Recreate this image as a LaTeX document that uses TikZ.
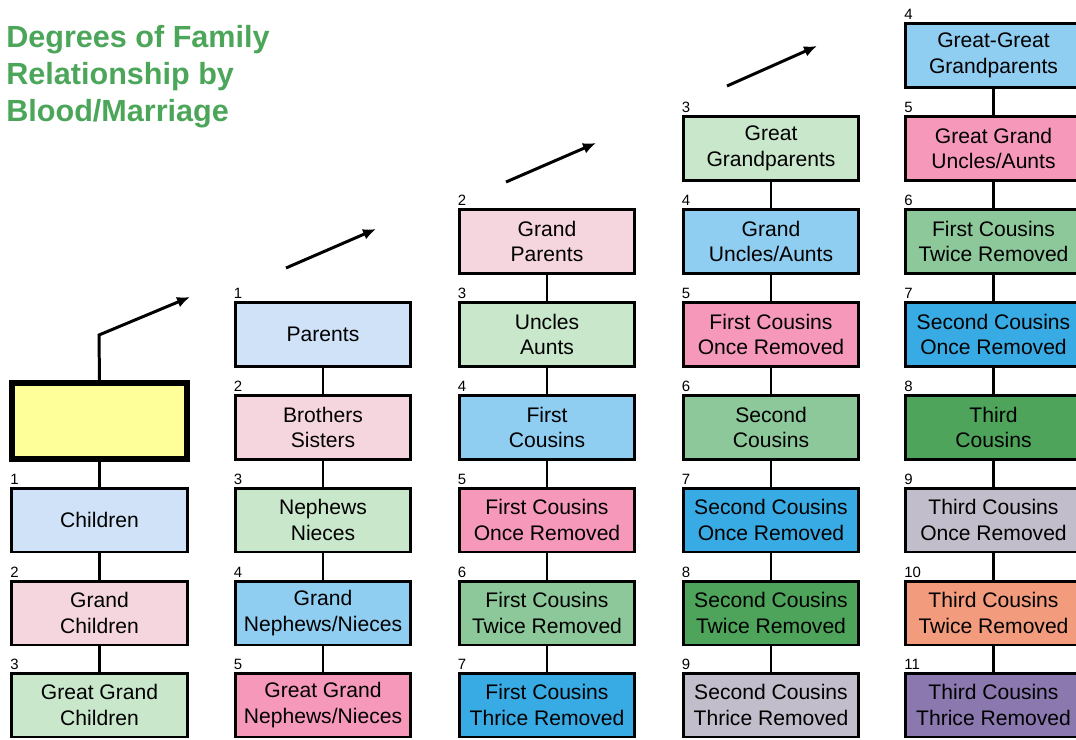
\documentclass[tikz,border=0pt]{standalone}
\usepackage{fontspec}
\setmainfont{Liberation Sans}
\usetikzlibrary{arrows.meta, positioning}

\definecolor{selfyellow}{HTML}{FFFF99}
\definecolor{paleblue}{HTML}{CFE2F8}
\definecolor{palepink}{HTML}{F5D6DF}
\definecolor{palegreen}{HTML}{C9E7CB}
\definecolor{midblue}{HTML}{8FCDF1}
\definecolor{midpink}{HTML}{F698BA}
\definecolor{midgreen}{HTML}{8DC89A}
\definecolor{brightblue}{HTML}{38ABE4}
\definecolor{darkgreen}{HTML}{4DA45A}
\definecolor{greylilac}{HTML}{C1BDCA}
\definecolor{salmon}{HTML}{F39B7D}
\definecolor{deeppurple}{HTML}{8B78AF}
\definecolor{titlegreen}{HTML}{4CA65A}

\tikzset{
  rel/.style={draw, line width=1.7pt, minimum width=3.52cm, minimum height=1.28cm,
    align=center, inner sep=1pt, font=\fontsize{12}{14.5}\selectfont},
  num/.style={font=\fontsize{8.5}{10}\selectfont, inner sep=0pt, anchor=south west, yshift=1pt},
  link/.style={line width=1.7pt},
  up/.style={-{Latex[length=0.26cm,width=0.22cm]}, line width=1.7pt}
}

\begin{document}
\begin{tikzpicture}[x=0.02cm, y=-0.02cm]
  \clip (0,0) rectangle (1076,740);

  % title
  \node[anchor=north west, inner sep=0pt, align=left, text=titlegreen,
        font=\bfseries\fontsize{17.4}{21}\selectfont] (title) at (6,25)
        {Degrees of Family\\Relationship by\\Blood/Marriage};

  % column 1: self and descendants
  \node[rel, fill=selfyellow, line width=3.4pt, minimum width=3.5cm, minimum height=1.52cm] (self) at (99.5,421) {};
  \node[rel, fill=paleblue, label={[num]north west:1}] (kid1) at (99.5,520) {Children};
  \node[rel, fill=palepink, label={[num]north west:2}] (kid2) at (99.5,613) {Grand\\Children};
  \node[rel, fill=palegreen, label={[num]north west:3}] (kid3) at (99.5,705) {Great Grand\\Children};

  % column 2
  \node[rel, fill=paleblue, label={[num]north west:1}] (par) at (323,334.5) {Parents};
  \node[rel, fill=palepink, label={[num]north west:2}] (sib) at (323,427.5) {Brothers\\Sisters};
  \node[rel, fill=palegreen, label={[num]north west:3}] (nep) at (323,520) {Nephews\\Nieces};
  \node[rel, fill=midblue, label={[num]north west:4}] (gnep) at (323,613) {Grand\\Nephews/Nieces};
  \node[rel, fill=midpink, label={[num]north west:5}] (ggnep) at (323,705) {Great Grand\\Nephews/Nieces};

  % column 3
  \node[rel, fill=palepink, label={[num]north west:2}] (gpar) at (547,241.5) {Grand\\Parents};
  \node[rel, fill=palegreen, label={[num]north west:3}] (unc) at (547,334.5) {Uncles\\Aunts};
  \node[rel, fill=midblue, label={[num]north west:4}] (fc) at (547,427.5) {First\\Cousins};
  \node[rel, fill=midpink, label={[num]north west:5}] (fcone) at (547,520) {First Cousins\\Once Removed};
  \node[rel, fill=midgreen, label={[num]north west:6}] (fctwo) at (547,613) {First Cousins\\Twice Removed};
  \node[rel, fill=brightblue, label={[num]north west:7}] (fcthree) at (547,705) {First Cousins\\Thrice Removed};

  % column 4
  \node[rel, fill=palegreen, label={[num]north west:3}] (ggpar) at (771,148.5) {Great\\Grandparents};
  \node[rel, fill=midblue, label={[num]north west:4}] (gunc) at (771,241.5) {Grand\\Uncles/Aunts};
  \node[rel, fill=midpink, label={[num]north west:5}] (fconeb) at (771,334.5) {First Cousins\\Once Removed};
  \node[rel, fill=midgreen, label={[num]north west:6}] (sc) at (771,427.5) {Second\\Cousins};
  \node[rel, fill=brightblue, label={[num]north west:7}] (scone) at (771,520) {Second Cousins\\Once Removed};
  \node[rel, fill=darkgreen, label={[num]north west:8}] (sctwo) at (771,613) {Second Cousins\\Twice Removed};
  \node[rel, fill=greylilac, label={[num]north west:9}] (scthree) at (771,705) {Second Cousins\\Thrice Removed};

  % column 5
  \node[rel, fill=midblue, label={[num]north west:4}] (gggpar) at (993.5,55.5) {Great-Great\\Grandparents};
  \node[rel, fill=midpink, label={[num]north west:5}] (ggunc) at (993.5,148.5) {Great Grand\\Uncles/Aunts};
  \node[rel, fill=midgreen, label={[num]north west:6}] (fctwob) at (993.5,241.5) {First Cousins\\Twice Removed};
  \node[rel, fill=brightblue, label={[num]north west:7}] (sconeb) at (993.5,334.5) {Second Cousins\\Once Removed};
  \node[rel, fill=darkgreen, label={[num]north west:8}] (tc) at (993.5,427.5) {Third\\Cousins};
  \node[rel, fill=greylilac, label={[num]north west:9}] (tcone) at (993.5,520) {Third Cousins\\Once Removed};
  \node[rel, fill=salmon, label={[num]north west:10}] (tctwo) at (993.5,613) {Third Cousins\\Twice Removed};
  \node[rel, fill=deeppurple, label={[num]north west:11}] (tcthree) at (993.5,705) {Third Cousins\\Thrice Removed};

  % links down each column
  \foreach \a/\b in {self/kid1, kid1/kid2, kid2/kid3,
                     par/sib, sib/nep, nep/gnep, gnep/ggnep,
                     gpar/unc, unc/fc, fc/fcone, fcone/fctwo, fctwo/fcthree,
                     ggpar/gunc, gunc/fconeb, fconeb/sc, sc/scone, scone/sctwo, sctwo/scthree,
                     gggpar/ggunc, ggunc/fctwob, fctwob/sconeb, sconeb/tc, tc/tcone, tcone/tctwo, tctwo/tcthree}
    \draw[link] (\a) -- (\b);

  % arrows going up a generation
  \coordinate (bend) at (99,335);
  \coordinate (upA) at (190,297);
  \draw[up] (self.north) -- (bend) -- (upA);
  \coordinate (fromB) at (286,268);  \coordinate (upB) at (376,229);
  \coordinate (fromC) at (506,182);  \coordinate (upC) at (596,143);
  \coordinate (fromD) at (727,86);   \coordinate (upD) at (817,46);
  \foreach \s/\t in {fromB/upB, fromC/upC, fromD/upD}
    \draw[up] (\s) -- (\t);
\end{tikzpicture}
\end{document}
